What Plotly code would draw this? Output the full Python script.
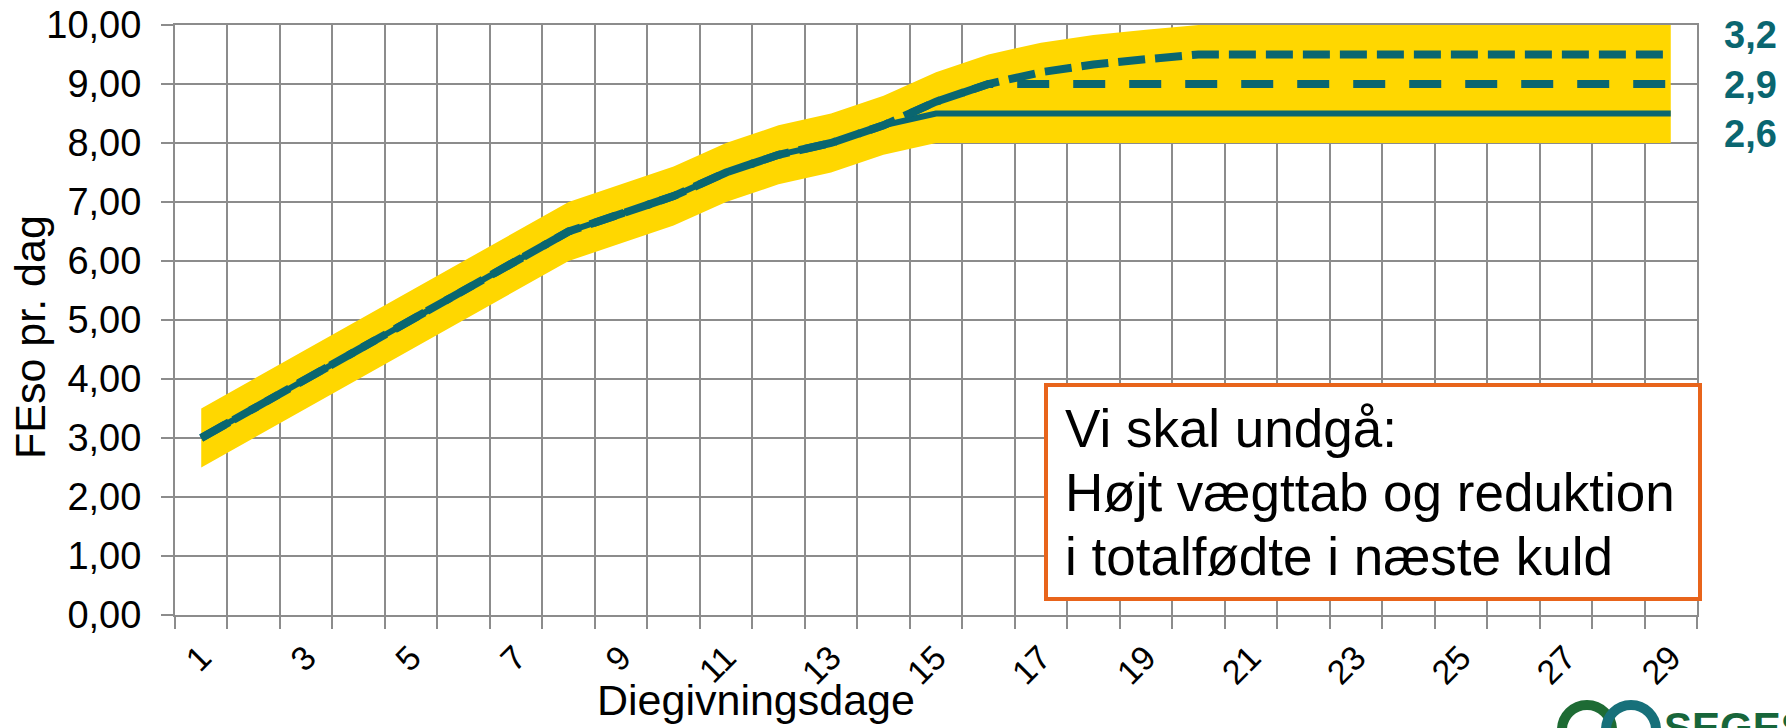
import plotly.graph_objects as go

# ---------------- data ----------------
days = list(range(1, 30))
tick_days = [1, 3, 5, 7, 9, 11, 13, 15, 17, 19, 21, 23, 25, 27, 29]
tick_text = [str(d) for d in tick_days]
y_ticks = [0, 1, 2, 3, 4, 5, 6, 7, 8, 9, 10]

# solid line (2,6)
feed_26 = [3.0, 3.5, 4.0, 4.5, 5.0, 5.5, 6.0, 6.5, 6.8, 7.1, 7.5, 7.8, 8.0, 8.3, 8.5,
           8.5, 8.5, 8.5, 8.5, 8.5, 8.5, 8.5, 8.5, 8.5, 8.5, 8.5, 8.5, 8.5, 8.5]
# dashed line (2,9)
feed_29 = [3.0, 3.5, 4.0, 4.5, 5.0, 5.5, 6.0, 6.5, 6.8, 7.1, 7.5, 7.8, 8.0, 8.3, 8.7,
           9.0, 9.0, 9.0, 9.0, 9.0, 9.0, 9.0, 9.0, 9.0, 9.0, 9.0, 9.0, 9.0, 9.0]
# dashed line (3,2)
feed_32 = [3.0, 3.5, 4.0, 4.5, 5.0, 5.5, 6.0, 6.5, 6.8, 7.1, 7.5, 7.8, 8.0, 8.3, 8.7,
           9.0, 9.2, 9.33, 9.42, 9.5, 9.5, 9.5, 9.5, 9.5, 9.5, 9.5, 9.5, 9.5, 9.5]
# yellow band
band_low = [2.5, 3.0, 3.5, 4.0, 4.5, 5.0, 5.5, 6.0, 6.3, 6.6, 7.0, 7.3, 7.5, 7.8, 8.0,
            8.0, 8.0, 8.0, 8.0, 8.0, 8.0, 8.0, 8.0, 8.0, 8.0, 8.0, 8.0, 8.0, 8.0]
band_high = [3.5, 4.0, 4.5, 5.0, 5.5, 6.0, 6.5, 7.0, 7.3, 7.6, 8.0, 8.3, 8.5, 8.8, 9.2,
             9.5, 9.7, 9.83, 9.92, 10.0, 10.0, 10.0, 10.0, 10.0, 10.0, 10.0, 10.0, 10.0, 10.0]

right_labels = ["3,2", "2,9", "2,6"]
box_lines = ["Vi skal undgå:", "Højt vægttab og reduktion", "i totalfødte i næste kuld"]

# ---------------- styling ----------------
W, H = 1786, 728
ML, MR, MT, MB = 175, 89, 25, 113
PW, PH = W - ML - MR, H - MT - MB
FONT = "Liberation Sans, Arial, sans-serif"
TEAL = "#0A6670"
GOLD = "#FFD700"
GRID = "#8C8C8C"
ORANGE = "#E8641B"


def px(x):
    return (x - ML) / PW


def py(y):
    return (H - MB - y) / PH


fig = go.Figure()
fig.add_trace(go.Scatter(x=days, y=band_low, mode="lines", line=dict(width=0, color=GOLD),
                         showlegend=False, hoverinfo="skip"))
fig.add_trace(go.Scatter(x=days, y=band_high, mode="lines", line=dict(width=0, color=GOLD),
                         fill="tonexty", fillcolor=GOLD, showlegend=False, hoverinfo="skip"))
fig.add_trace(go.Scatter(x=days, y=feed_26, mode="lines", line=dict(width=6, color=TEAL),
                         showlegend=False))
fig.add_trace(go.Scatter(x=days, y=feed_29, mode="lines",
                         line=dict(width=8, color=TEAL, dash="32px,24px"), showlegend=False))
fig.add_trace(go.Scatter(x=days, y=feed_32, mode="lines",
                         line=dict(width=8, color=TEAL, dash="27px,10px"), showlegend=False))

boundaries = [d - 0.5 for d in days] + [days[-1] + 0.5]

fig.update_xaxes(
    range=[0.5, 29.5], tickmode="array", tickvals=tick_days, ticktext=tick_text,
    tickangle=-45, tickfont=dict(family=FONT, size=34, color="black"),
    ticks="", showgrid=False, zeroline=False, automargin=False,
    showline=True, linecolor=GRID, linewidth=2, mirror=True,
    ticklabelstandoff=7,
    minor=dict(tickmode="array", tickvals=boundaries, ticks="outside", ticklen=12,
               tickwidth=2, tickcolor=GRID, showgrid=True, gridcolor=GRID, gridwidth=2),
)
fig.update_yaxes(
    range=[0, 10], tickmode="array", tickvals=y_ticks, tickformat=".2f",
    tickfont=dict(family=FONT, size=38, color="black"),
    ticks="outside", ticklen=12, tickwidth=2, tickcolor=GRID,
    showgrid=True, gridcolor=GRID, gridwidth=2, zeroline=False, automargin=False,
    showline=True, linecolor=GRID, linewidth=2, mirror=True,
    ticklabelstandoff=12,
)

annotations = []
# axis titles
annotations.append(dict(text="FEso pr. dag", xref="paper", yref="paper", x=px(30), y=py(337),
                        xanchor="center", yanchor="middle", textangle=-90, showarrow=False,
                        font=dict(family=FONT, size=43, color="black")))
annotations.append(dict(text="Diegivningsdage", xref="paper", yref="paper", x=px(756), y=py(700),
                        xanchor="center", yanchor="middle", showarrow=False,
                        font=dict(family=FONT, size=43, color="black")))
# right-hand labels
for lab, yy in zip(right_labels, [35, 85, 134]):
    annotations.append(dict(text="<b>" + lab + "</b>", xref="paper", yref="paper", x=px(1722),
                            y=py(yy), xanchor="left", yanchor="middle", showarrow=False,
                            font=dict(family=FONT, size=38, color=TEAL)))
# text box lines
for line, yy in zip(box_lines, [428, 492, 556]):
    annotations.append(dict(text=line, xref="paper", yref="paper", x=px(1063), y=py(yy),
                            xanchor="left", yanchor="middle", showarrow=False,
                            font=dict(family=FONT, size=53, color="black")))
# logo text
annotations.append(dict(text="<b>SEGES</b>", xref="paper", yref="paper", x=px(1662), y=py(727),
                        xanchor="left", yanchor="middle", showarrow=False,
                        font=dict(family=FONT, size=42, color="#17663A")))

shapes = [
    dict(type="rect", xref="paper", yref="paper", x0=px(1046), x1=px(1700), y0=py(599), y1=py(385),
         line=dict(color=ORANGE, width=4), fillcolor="white", layer="above"),
    dict(type="circle", xref="paper", yref="paper", x0=px(1562), x1=px(1612), y0=py(755), y1=py(705),
         line=dict(color="#1E6B34", width=10), fillcolor="rgba(0,0,0,0)", layer="above"),
    dict(type="circle", xref="paper", yref="paper", x0=px(1606), x1=px(1656), y0=py(755), y1=py(705),
         line=dict(color="#17707A", width=10), fillcolor="rgba(0,0,0,0)", layer="above"),
]

fig.update_layout(
    width=W, height=H, autosize=False,
    margin=dict(l=ML, r=MR, t=MT, b=MB, pad=0),
    paper_bgcolor="white", plot_bgcolor="white",
    separators=",.",
    font=dict(family=FONT, color="black"),
    annotations=annotations, shapes=shapes, showlegend=False,
)

fig.write_html(
    "out.html",
    config={"displayModeBar": False},
    post_script="document.body.style.margin='0';document.body.style.overflow='hidden';",
)
